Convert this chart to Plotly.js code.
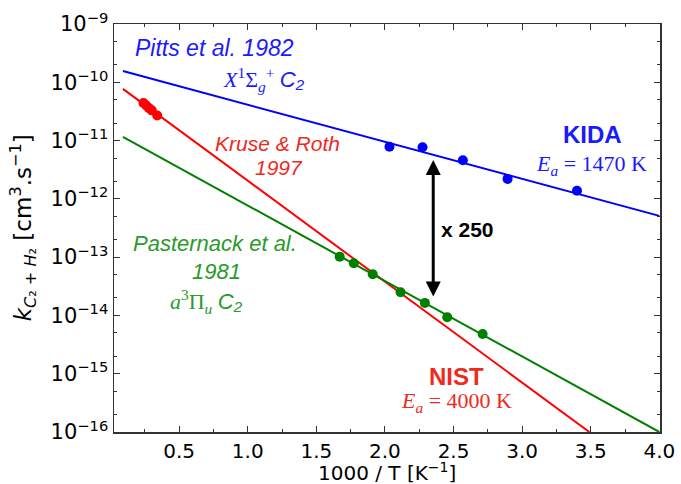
<!DOCTYPE html>
<html>
<head>
<meta charset="utf-8">
<script src="https://cdn.plot.ly/plotly-3.0.1.min.js"></script>
<style>html,body{margin:0;padding:0;background:#fff;}#chart{width:681px;height:484px;}</style>
</head>
<body>
<div id="chart"></div>
<script>
// Fitted lines (endpoints)
const kidaLineX = [0.09, 4.0];
const kidaLineY = [1.56e-10, 5.1e-13];
const nistLineX = [0.09, 3.49];
const nistLineY = [7.7e-11, 1.0e-16];
const pastLineX = [0.09, 4.0];
const pastLineY = [1.16e-11, 1.0e-16];

// Measured points
const pittsX = [2.033, 2.274, 2.568, 2.894, 3.40];
const pittsY = [7.85e-12, 7.7e-12, 4.6e-12, 2.2e-12, 1.38e-12];
const kruseX = [0.24, 0.26, 0.28, 0.30, 0.34];
const kruseY = [4.4e-11, 4.0e-11, 3.6e-11, 3.3e-11, 2.7e-11];
const pastX = [1.670, 1.773, 1.911, 2.114, 2.291, 2.454, 2.712];
const pastY = [1.02e-13, 7.85e-14, 5.1e-14, 2.5e-14, 1.64e-14, 9.3e-15, 4.8e-15];

// Axis ticks
const xTicks = [0.5, 1.0, 1.5, 2.0, 2.5, 3.0, 3.5, 4.0];
const yTickExp = [-16, -15, -14, -13, -12, -11, -10, -9];
const yTickVals = yTickExp.map(e => Math.pow(10, e));
const yTickText = yTickExp.map(e => '10<sup>\u2212' + Math.abs(e) + '</sup>');

// Ratio arrow (1000/T, log10 k top, log10 k bottom)
const arrowX = 2.352;
const arrowTop = -11.333;
const arrowBottom = -13.70;

const BLUE = '#0000ff', RED = '#ff0000', GREEN = '#008000';
const BLUE_T = '#1a1aff', RED_T = '#ee2a1e', GREEN_T = '#2a9a2a';
const SANS = 'Liberation Sans, Arial, sans-serif';
const SERIF = 'Liberation Serif, Times New Roman, serif';
const TICKF = 'DejaVu Sans, sans-serif';

const traces = [
  {x: kidaLineX, y: kidaLineY, mode: 'lines', line: {color: BLUE, width: 2}, hoverinfo: 'skip'},
  {x: nistLineX, y: nistLineY, mode: 'lines', line: {color: RED, width: 2}, hoverinfo: 'skip'},
  {x: pastLineX, y: pastLineY, mode: 'lines', line: {color: GREEN, width: 2}, hoverinfo: 'skip'},
  {x: pittsX, y: pittsY, mode: 'markers', marker: {color: BLUE, size: 10}},
  {x: kruseX, y: kruseY, mode: 'markers', marker: {color: RED, size: 10}},
  {x: pastX, y: pastY, mode: 'markers', marker: {color: GREEN, size: 10}}
];

function txt(x, y, text, color, size, family, extra) {
  return Object.assign({x: x, y: y, xref: 'x', yref: 'y', text: text, showarrow: false,
    font: {color: color, size: size, family: family}, xanchor: 'center', yanchor: 'middle'}, extra || {});
}

const annotations = [
  txt(0.761, -9.41, '<i>Pitts et al. 1982</i>', BLUE_T, 23, SANS),
  txt(1.118, -9.96, '<i>X</i><sup>1</sup>Σ<sub><i>g</i></sub><sup>+</sup> <span style="font-family:Liberation Sans"><i>C₂</i></span>', BLUE_T, 22, SERIF),
  txt(1.217, -11.05, '<i>Kruse &amp; Roth</i>', RED_T, 21, SANS),
  txt(1.225, -11.46, '<i>1997</i>', RED_T, 21, SANS),
  txt(3.516, -10.904, '<b>KIDA</b>', BLUE_T, 24, SANS),
  txt(3.505, -11.419, '<i>E</i><sub><i>a</i></sub> = 1470 K', BLUE_T, 22, SERIF),
  txt(2.605, -12.533, '<b>x 250</b>', '#000', 21, SANS),
  txt(0.761, -12.774, '<i>Pasternack et al.</i>', GREEN_T, 22, SANS),
  txt(0.77, -13.248, '<i>1981</i>', GREEN_T, 22, SANS),
  txt(0.696, -13.763, '<i>a</i><sup>3</sup>Π<sub><i>u</i></sub> <span style="font-family:Liberation Sans"><i>C₂</i></span>', GREEN_T, 22, SERIF),
  txt(2.518, -15.05, '<b>NIST</b>', RED_T, 24, SANS),
  txt(2.523, -15.478, '<i>E</i><sub><i>a</i></sub> = 4000 K', RED_T, 22, SERIF),
  {x: arrowX, y: arrowTop, ax: arrowX, ay: arrowBottom, xref: 'x', yref: 'y', axref: 'x', ayref: 'y',
   text: '', showarrow: true, arrowside: 'end+start', arrowhead: 2, startarrowhead: 2,
   arrowwidth: 3, arrowsize: 1, startarrowsize: 1, arrowcolor: '#000'},
  {xref: 'paper', yref: 'paper', x: -0.168, y: 0.5, textangle: -90, showarrow: false,
   xanchor: 'center', yanchor: 'middle',
   text: '<i>k</i><sub><i>C</i>₂ + <i>H</i>₂</sub> [cm<sup>3</sup>.s<sup>\u22121</sup>]',
   font: {size: 23, family: TICKF, color: '#000'}},
  {xref: 'paper', yref: 'paper', x: 0.5, y: -0.097, showarrow: false,
   xanchor: 'center', yanchor: 'middle',
   text: '1000 / T [K<sup>\u22121</sup>]', font: {size: 20, family: TICKF, color: '#000'}}
];

const layout = {
  width: 681, height: 484,
  margin: {l: 114, r: 21, t: 24, b: 52},
  paper_bgcolor: '#fff', plot_bgcolor: '#fff',
  showlegend: false,
  xaxis: {
    range: [0.025, 4.005], tickvals: xTicks, ticktext: xTicks.map(v => v.toFixed(1)),
    ticks: 'inside', ticklen: 6, tickwidth: 1, tickcolor: '#333',
    showline: true, linecolor: '#333', linewidth: 1.5, mirror: 'allticks',
    showgrid: false, zeroline: false,
    tickfont: {size: 20, family: TICKF, color: '#000'},
    minor: {dtick: 0.25, tick0: 0, ticks: 'inside', ticklen: 3, tickcolor: '#333', showgrid: false}
  },
  yaxis: {
    type: 'log', range: [-16, -9], tickvals: yTickVals, ticktext: yTickText,
    ticks: 'inside', ticklen: 6, tickwidth: 1, tickcolor: '#333',
    showline: true, linecolor: '#333', linewidth: 1.5, mirror: 'allticks',
    showgrid: false, zeroline: false,
    tickfont: {size: 21, family: TICKF, color: '#000'},
    minor: {ticks: 'inside', ticklen: 3, tickcolor: '#333', showgrid: false}
  },
  annotations: annotations
};

Plotly.newPlot('chart', traces, layout, {staticPlot: true, displayModeBar: false});
</script>
</body>
</html>
